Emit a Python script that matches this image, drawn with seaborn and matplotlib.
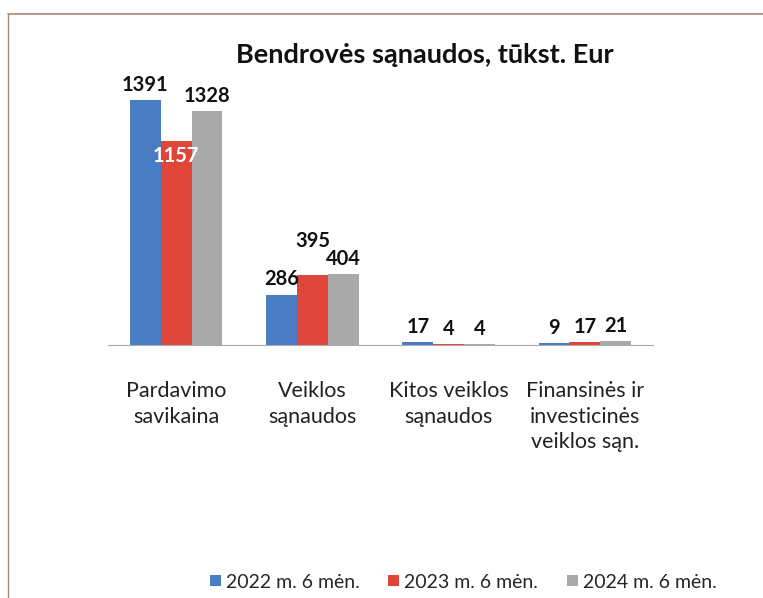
import matplotlib
matplotlib.use("Agg")
import matplotlib.pyplot as plt
from matplotlib.lines import Line2D
from matplotlib.patches import Patch
import seaborn as sns
import pandas as pd

categories = ["Pardavimo\nsavikaina", "Veiklos\nsąnaudos", "Kitos veiklos\nsąnaudos",
              "Finansinės ir\ninvesticinės\nveiklos sąn."]
series = ["2022 m. 6 mėn.", "2023 m. 6 mėn.", "2024 m. 6 mėn."]
v2022 = [1391, 286, 17, 9]
v2023 = [1157, 395, 4, 17]
v2024 = [1328, 404, 4, 21]
colors = ["#4a7cc4", "#e0453a", "#a9a9a9"]

rows = []
for s, vals in zip(series, [v2022, v2023, v2024]):
    for c, v in zip(categories, vals):
        rows.append({"cat": c, "series": s, "value": v})
df = pd.DataFrame(rows)

sns.set_theme(style="white")
plt.rcParams["font.family"] = ["Lato", "DejaVu Sans"]

fig = plt.figure(figsize=(7.63, 5.98), dpi=100)
ax = fig.add_axes([108 / 763, 1 - 345 / 598, 545 / 763, (345 - 80) / 598])
sns.barplot(data=df, x="cat", y="value", hue="series", palette=colors,
            width=0.68, gap=0, ax=ax, legend=False, saturation=1,
            edgecolor="none", linewidth=0)
ax.set_ylim(0, 1505)
ax.set_xlim(-0.5, 3.5)
for s in ["top", "right", "left"]:
    ax.spines[s].set_visible(False)
ax.spines["bottom"].set_color("#aaaaaa")
ax.spines["bottom"].set_linewidth(0.8)
ax.set_yticks([])
ax.set_xlabel("")
ax.set_ylabel("")
ax.tick_params(axis="x", length=0, pad=26, labelsize=15.5)
for lab in ax.get_xticklabels():
    lab.set_verticalalignment("top")
    lab.set_color("#222222")
    lab.set_linespacing(1.35)

for i, cont in enumerate(ax.containers):
    for j, bar in enumerate(cont):
        val = bar.get_height()
        x = bar.get_x() + bar.get_width() / 2
        if i == 1 and j == 0:
            ax.text(x, val - 25, f"{int(val)}", ha="center", va="top",
                    color="white", fontsize=14.5, fontweight="bold")
        else:
            extra = 110 if (i == 1 and j == 1) else 0
            ax.text(x, val + 30 + extra, f"{int(val)}", ha="center", va="bottom",
                    color="#111111", fontsize=14.5, fontweight="bold")

fig.text(0.557, 1 - 55 / 598, "Bendrovės sąnaudos, tūkst. Eur", ha="center",
         va="center", fontsize=19.5, fontweight="bold", color="#111111")

handles = [Patch(facecolor=c, edgecolor="none") for c in colors]
fig.legend(handles, series, loc="center", bbox_to_anchor=(0.607, 1 - 582 / 598),
           ncol=3, frameon=False, fontsize=14, handlelength=0.55, handleheight=0.55,
           columnspacing=1.5, handletextpad=0.25)

fig.add_artist(Line2D([8 / 763, 1], [1 - 14 / 598, 1 - 14 / 598], color="#b08478", lw=1.2))
fig.add_artist(Line2D([8 / 763, 8 / 763], [1 - 14 / 598, 0], color="#b08478", lw=1.0))

fig.savefig("out.png", dpi=100)
